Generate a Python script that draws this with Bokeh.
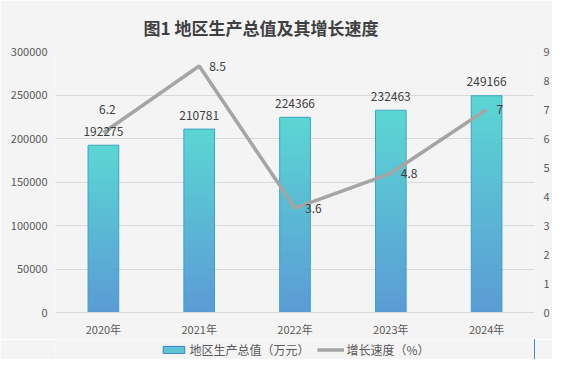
from bokeh.plotting import figure
from bokeh.layouts import column
from bokeh.models import (ColumnDataSource, Range1d, LinearAxis, FixedTicker,
                          BasicTickFormatter, Legend, LegendItem)
from bokeh.core.properties import value
from bokeh.embed import file_html
from bokeh.resources import INLINE

# ---------------- data ----------------
years = ["2020年", "2021年", "2022年", "2023年", "2024年"]
gdp = [192275, 210781, 224366, 232463, 249166]
growth = [6.2, 8.5, 3.6, 4.8, 7.0]
growth_labels = ["6.2", "8.5", "3.6", "4.8", "7"]
left_ticks = [0, 50000, 100000, 150000, 200000, 250000, 300000]
right_ticks = [0, 1, 2, 3, 4, 5, 6, 7, 8, 9]

FONT = "Noto Sans CJK SC"
BG = "#F4F4F4"
TXT = "#404040"
AX = "#595959"
GRID = "#D9D9D9"
TOP_C = (91, 214, 212)
BOT_C = (91, 155, 213)

p = figure(x_range=years, y_range=Range1d(0, 300000), width=552, height=339,
           output_backend="svg", toolbar_location=None,
           min_border_left=55, min_border_right=14, min_border_top=51,
           min_border_bottom=27)
p.background_fill_color = BG
p.border_fill_color = BG
p.outline_line_color = None
p.extra_y_ranges = {"pct": Range1d(0, 9)}

# title
p.title.text = "图1  地区生产总值及其增长速度"
p.title.align = "left"
p.title.offset = 88
p.title.standoff = 24
p.title.text_font = FONT
p.title.text_font_size = "17px"
p.title.text_font_style = "bold"
p.title.text_color = TXT

# gradient bars built from stacked slices (per bar, blue bottom -> teal top)
N = 60
xs, bots, tops, cols = [], [], [], []
for yr, v in zip(years, gdp):
    for k in range(N):
        t = (k + 0.5) / N
        c = tuple(int(round(BOT_C[j] + (TOP_C[j] - BOT_C[j]) * t)) for j in range(3))
        xs.append(yr)
        bots.append(v * k / N)
        tops.append(min(v, v * (k + 1.3) / N))
        cols.append("#%02x%02x%02x" % c)
p.vbar(x=xs, bottom=bots, top=tops, width=0.32, fill_color=cols,
       line_color=None)
p.vbar(x=years, top=gdp, width=0.32, fill_alpha=0, line_color="#3AA6BE",
       line_width=1)

# growth line
line_src = ColumnDataSource(dict(x=years, y=growth))
p.line("x", "y", source=line_src, y_range_name="pct", line_color="#A5A5A5",
       line_width=3.5)

# axes
p.yaxis.ticker = FixedTicker(ticks=left_ticks)
p.yaxis.formatter = BasicTickFormatter(use_scientific=False)
p.add_layout(LinearAxis(y_range_name="pct", ticker=FixedTicker(ticks=right_ticks)), "right")
for ax in p.yaxis:
    ax.axis_line_color = None
    ax.major_tick_line_color = None
    ax.minor_tick_line_color = None
    ax.major_tick_out = 0
    ax.major_tick_in = 0
    ax.major_label_text_font = FONT
    ax.major_label_text_font_size = "11px"
    ax.major_label_text_color = AX
p.yaxis[0].major_label_standoff = 8
p.yaxis[1].major_label_standoff = 9
p.xaxis.axis_line_color = GRID
p.xaxis.major_tick_line_color = None
p.xaxis.minor_tick_line_color = None
p.xaxis.major_tick_out = 0
p.xaxis.major_tick_in = 0
p.xaxis.major_label_text_font = FONT
p.xaxis.major_label_text_font_size = "11px"
p.xaxis.major_label_text_color = AX
p.xaxis.major_label_standoff = 8
p.xgrid.grid_line_color = None
p.ygrid.grid_line_color = GRID

# bar labels
p.text(x=years, y=gdp, text=[str(v) for v in gdp], y_offset=-14,
       text_align="center", text_baseline="middle", text_font=value(FONT),
       text_font_size="12px", text_color=TXT)
# growth labels
g_xoff = [4, 10, 10, 10, 10]
g_yoff = [-23, 0, 0, 0, 0]
g_align = ["center", "left", "left", "left", "left"]
p.text(x=years, y=growth, text=growth_labels, x_offset=g_xoff, y_offset=g_yoff,
       y_range_name="pct", text_align=g_align, text_baseline="middle",
       text_font=value(FONT), text_font_size="12px", text_color=TXT)

# legend strip (separate small figure below the chart); its renderers hold
# the chart's values, which fall far outside this strip's visible range
lg = figure(width=552, height=20, output_backend="svg", toolbar_location=None,
            x_range=Range1d(0, 1), y_range=Range1d(0, 1),
            min_border_left=0, min_border_right=0, min_border_top=0,
            min_border_bottom=0)
lg.axis.visible = False
lg.grid.visible = False
lg.background_fill_color = BG
lg.border_fill_color = BG
lg.outline_line_color = None
bar_leg = lg.vbar(x=gdp, top=growth, width=0.3, fill_color="#5CC6D6",
                  line_color="#3C7FC0", line_width=1)
line_leg = lg.line(x=gdp, y=growth, line_color="#A5A5A5", line_width=3.5)
legend = Legend(items=[LegendItem(label="地区生产总值（万元）", renderers=[bar_leg]),
                       LegendItem(label="增长速度（%）", renderers=[line_leg])],
                location="center", orientation="horizontal",
                background_fill_alpha=0, border_line_color=None, padding=0,
                margin=0, spacing=7, label_standoff=3, glyph_width=27,
                glyph_height=9, label_height=20,
                label_text_font=FONT, label_text_font_size="12px",
                label_text_color=AX)
lg.add_layout(legend, "center")

layout = column(p, lg, spacing=0)
open("out.html", "w").write(file_html(layout, INLINE))
